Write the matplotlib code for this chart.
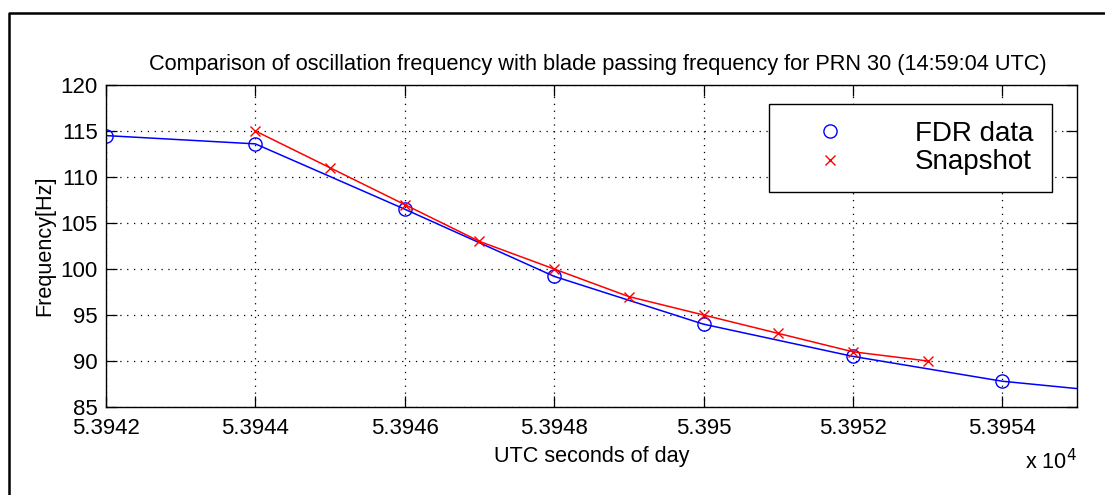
import matplotlib
matplotlib.use("Agg")
import matplotlib.pyplot as plt
from matplotlib.lines import Line2D

plt.rcParams['font.family'] = ['Liberation Sans', 'DejaVu Sans']

# FDR data (every 2 s) and snapshot estimates (every 1 s)
fdr_t = [53942, 53944, 53946, 53948, 53950, 53952, 53954, 53956]
fdr_f = [114.5, 113.6, 106.5, 99.2, 94.0, 90.5, 87.8, 86.2]
snap_t = [53944, 53945, 53946, 53947, 53948, 53949, 53950, 53951, 53952, 53953]
snap_f = [115, 111, 107, 103, 100, 97, 95, 93, 91, 90]

xticks = [53942, 53944, 53946, 53948, 53950, 53952, 53954]
xticklabels = ['5.3942', '5.3944', '5.3946', '5.3948', '5.395', '5.3952', '5.3954']
yticks = [85, 90, 95, 100, 105, 110, 115, 120]

fig = plt.figure(figsize=(11.05, 4.95), dpi=100)
ax = fig.add_axes([0.0959, 0.1778, 0.8788, 0.6505])

ax.plot(fdr_t, fdr_f, color='blue', lw=1.1, marker='o', ms=9.5,
        mfc='none', mec='blue', mew=1.0)
ax.plot(snap_t, snap_f, color='red', lw=1.1, marker='x', ms=7,
        mec='red', mew=1.0)

ax.set_xlim(53942, 53955)
ax.set_ylim(85, 120)
ax.set_xticks(xticks)
ax.set_xticklabels(xticklabels)
ax.set_yticks(yticks)
ax.tick_params(direction='in', length=8, width=0.9, labelsize=16,
               top=True, right=True)
ax.tick_params(axis='x', pad=8)
ax.tick_params(axis='y', pad=6)
for s in ax.spines.values():
    s.set_linewidth(1.0)
ax.grid(True, color='black', linestyle=(0, (1, 4.5)), linewidth=0.9)

ax.set_title('Comparison of oscillation frequency with blade passing frequency for PRN 30 (14:59:04 UTC)',
             fontsize=15.7, pad=11, x=0.506)
ax.set_xlabel('UTC seconds of day', fontsize=15.6, labelpad=5)
ax.set_ylabel('Frequency[Hz]', fontsize=15.6, labelpad=4)
ax.text(1.0, -0.13, r'x 10$^{4}$', transform=ax.transAxes, ha='right',
        va='top', fontsize=15.6)

# legend shows markers only
handles = [Line2D([], [], ls='none', marker='o', ms=9.5, mfc='none', mec='blue', mew=1.0),
           Line2D([], [], ls='none', marker='x', ms=7, mec='red', mew=1.0)]
leg = ax.legend(handles, ['FDR data', 'Snapshot'], loc='upper left',
                bbox_to_anchor=(0.683, 0.941, 0.291, 0.0), mode='expand',
                fontsize=20, frameon=True, fancybox=False, edgecolor='black',
                framealpha=1, borderpad=0.6, handlelength=3.2,
                handletextpad=1.45, labelspacing=0.1, borderaxespad=0)
leg.get_frame().set_linewidth(1.0)

# frame around the figure window
fig.add_artist(Line2D([8.5 / 1105, 8.5 / 1105, 1.01], [-0.01, 1 - 12.5 / 495, 1 - 12.5 / 495],
                      transform=fig.transFigure, color='black', lw=1.8))

fig.savefig('out.png', dpi=100)
